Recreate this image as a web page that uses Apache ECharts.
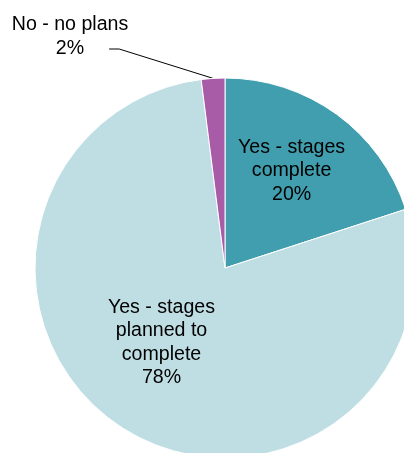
<!DOCTYPE html>
<html>
<head>
<meta charset="utf-8">
<style>
  html, body { margin: 0; padding: 0; background: #fff; }
  #chart { width: 404px; height: 453px; }
</style>
<script src="https://cdn.jsdelivr.net/npm/echarts@6/dist/echarts.min.js"></script>
</head>
<body>
<div id="chart"></div>
<script>
// Share of respondents by plan status (percent), clockwise from 12 o'clock
var categories = ['Yes - stages complete', 'Yes - stages planned to complete', 'No - no plans'];
var labelTexts = ['Yes - stages\ncomplete', 'Yes - stages\nplanned to\ncomplete', 'No - no plans'];
var values = [20, 78, 2];
var colors = ['#409eae', '#bfdee3', '#a85ca8'];

var FONT = 'Liberation Sans, Arial, sans-serif';
var FONT_SIZE = 19.6;

var chart = echarts.init(document.getElementById('chart'), null, { renderer: 'canvas' });

var data = categories.map(function (name, i) {
  return {
    name: name,
    value: values[i],
    itemStyle: { color: colors[i] },
    label: { position: i === 2 ? 'outside' : 'inside' },
    labelLine: { show: i === 2 }
  };
});

chart.setOption({
  animation: false,
  // caption line of the small outside label; its percentage sits below on the leader line
  graphic: [{
    type: 'text',
    x: 70,
    y: 25,
    silent: true,
    style: {
      text: labelTexts[2],
      fill: '#000',
      font: FONT_SIZE + 'px ' + FONT,
      textAlign: 'center',
      textVerticalAlign: 'middle'
    }
  }],
  series: [{
    type: 'pie',
    center: [225, 268],
    radius: 190,
    startAngle: 90,
    clockwise: true,
    avoidLabelOverlap: false,
    itemStyle: { borderColor: '#ffffff', borderWidth: 1 },
    label: {
      show: true,
      color: '#000',
      fontFamily: FONT,
      fontSize: FONT_SIZE,
      lineHeight: 23.5,
      align: 'center',
      overflow: 'none',
      formatter: function (p) {
        if (p.dataIndex === 2) {
          return '{s|}{v|' + p.value + '%}{s|}';
        }
        return labelTexts[p.dataIndex] + '\n' + p.value + '%';
      },
      rich: {
        s: { width: 25 },
        v: { color: '#000', fontFamily: FONT, fontSize: FONT_SIZE, lineHeight: 23.5 }
      }
    },
    labelLine: {
      show: true,
      length: 10,
      length2: 10,
      lineStyle: { color: '#000', width: 1 }
    },
    labelLayout: function (params) {
      if (params.dataIndex === 0) {
        return { dx: 9, dy: -18 };
      }
      if (params.dataIndex === 1) {
        return { dx: -11, dy: -8 };
      }
      return { x: 70, y: 49, align: 'center', verticalAlign: 'middle' };
    },
    data: data
  }]
});
</script>
</body>
</html>
